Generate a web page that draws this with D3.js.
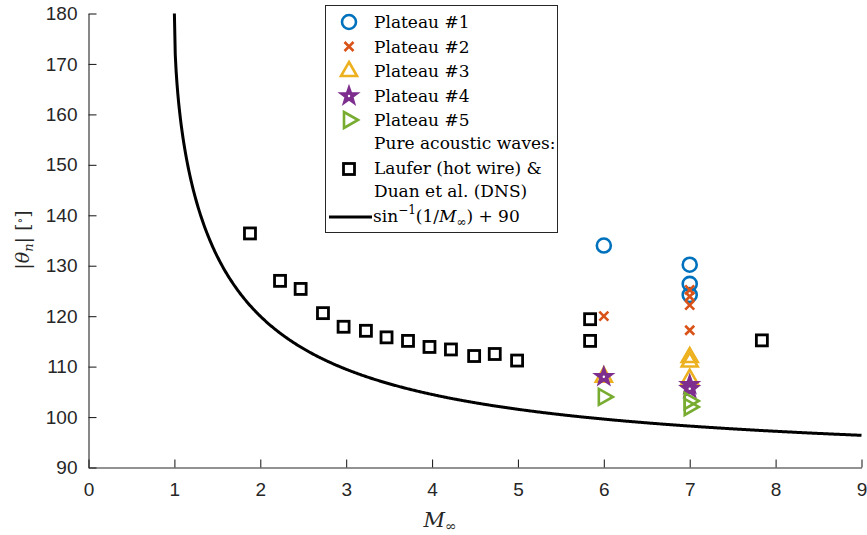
<!DOCTYPE html>
<html>
<head>
<meta charset="utf-8">
<script src="https://cdn.jsdelivr.net/npm/d3@7"></script>
<style>
  html, body { margin: 0; padding: 0; background: #fff; }
  svg { display: block; }
</style>
</head>
<body>
<svg id="chart" width="867" height="535"></svg>
<script>
// Laufer (hot wire) & Duan et al. (DNS): pure acoustic waves
const acousticMach  = [1.88, 2.23, 2.47, 2.73, 2.97, 3.23, 3.47, 3.72, 3.97, 4.22, 4.49, 4.73, 4.99, 5.84, 5.84, 7.84];
const acousticTheta = [136.4, 127.0, 125.4, 120.6, 117.9, 117.1, 115.8, 115.1, 113.9, 113.4, 112.1, 112.5, 111.2, 119.4, 115.1, 115.2];

// Plateau measurements
const plateau1Mach  = [6, 7, 7, 7];
const plateau1Theta = [134.0, 130.2, 126.4, 124.2];
const plateau2Mach  = [6, 7, 7, 7, 7];
const plateau2Theta = [120.0, 125.2, 123.9, 122.2, 117.2];
const plateau3Mach  = [6, 7, 7, 7];
const plateau3Theta = [108.0, 111.9, 111.0, 107.6];
const plateau4Mach  = [6, 7, 7];
const plateau4Theta = [108.0, 106.4, 105.6];
const plateau5Mach  = [6, 7, 7];
const plateau5Theta = [104.0, 103.2, 102.0];

const xTicks = [0, 1, 2, 3, 4, 5, 6, 7, 8, 9];
const yTicks = [90, 100, 110, 120, 130, 140, 150, 160, 170, 180];

const legendLabels = ["Plateau #1", "Plateau #2", "Plateau #3", "Plateau #4", "Plateau #5"];
const colors = ["#0072BD", "#D95319", "#EDB120", "#7E2F8E", "#77AC30"];

const svg = d3.select("#chart");
const plotLeft = 88.5, plotRight = 861.5, plotTop = 13.5, plotBottom = 467.5;
const x = d3.scaleLinear().domain([0, 9]).range([plotLeft, plotRight]);
const y = d3.scaleLinear().domain([90, 180]).range([plotBottom, plotTop]);

const axisColor = "#262626";
const tickFont = "'Liberation Sans', Arial, sans-serif";
const serif = "'DejaVu Serif', 'Liberation Serif', serif";

// Axes: left and bottom only, ticks pointing inward
const gx = svg.append("g").attr("transform", `translate(0,${plotBottom})`)
  .call(d3.axisBottom(x).tickValues(xTicks).tickSizeInner(-8).tickSizeOuter(0).tickPadding(15).tickFormat(d3.format("d")));
const gy = svg.append("g").attr("transform", `translate(${plotLeft},0)`)
  .call(d3.axisLeft(y).tickValues(yTicks).tickSizeInner(-8).tickSizeOuter(0).tickPadding(11).tickFormat(d3.format("d")));
[gx, gy].forEach(g => {
  g.select(".domain").attr("stroke", axisColor).attr("stroke-width", 1.1);
  g.selectAll(".tick line").attr("stroke", axisColor).attr("stroke-width", 1.1);
  g.selectAll(".tick text").attr("fill", axisColor).style("font-family", tickFont).style("font-size", "19px");
});

// Theoretical curve sin^-1(1/M) + 90
const curveMach = d3.range(1, 9.0001, 0.01);
const curveLine = d3.line().x(d => x(d)).y(d => y(Math.asin(Math.min(1, 1 / d)) * 180 / Math.PI + 90));
svg.append("path").datum(curveMach).attr("d", curveLine)
  .attr("fill", "none").attr("stroke", "#000").attr("stroke-width", 3);

// Marker shapes
function starPath(r) {
  const pts = [];
  for (let i = 0; i < 10; i++) {
    const rad = i % 2 === 0 ? r : r * 0.4;
    const a = -Math.PI / 2 + i * Math.PI / 5;
    pts.push([rad * Math.cos(a), rad * Math.sin(a)]);
  }
  return "M" + pts.map(p => p.join(",")).join("L") + "Z";
}
const markers = {
  circle: (g, c) => g.append("circle").attr("r", 7).attr("fill", "none").attr("stroke", c).attr("stroke-width", 2.6),
  cross: (g, c) => g.append("path").attr("d", "M-4.5,-4.5L4.5,4.5M-4.5,4.5L4.5,-4.5").attr("fill", "none").attr("stroke", c).attr("stroke-width", 2.6),
  triUp: (g, c) => g.append("path").attr("d", "M0,-9L8,5L-8,5Z").attr("fill", "none").attr("stroke", c).attr("stroke-width", 2.6),
  star: (g, c) => {
    g.append("path").attr("d", starPath(9.8)).attr("fill", c).attr("stroke", c).attr("stroke-width", 1.6).attr("stroke-linejoin", "miter");
    g.append("circle").attr("r", 1.2).attr("fill", "#fff");
  },
  triRight: (g, c) => g.append("path").attr("d", "M9,0L-5,-8L-5,8Z").attr("fill", "none").attr("stroke", c).attr("stroke-width", 2.6),
  square: (g, c) => g.append("rect").attr("x", -5.5).attr("y", -5.5).attr("width", 11).attr("height", 11).attr("fill", "none").attr("stroke", c).attr("stroke-width", 2.8)
};

function drawSeries(xs, ys, shape, color) {
  xs.forEach((m, i) => {
    const g = svg.append("g").attr("transform", `translate(${x(m)},${y(ys[i])})`);
    markers[shape](g, color);
  });
}
drawSeries(acousticMach, acousticTheta, "square", "#000");
drawSeries(plateau1Mach, plateau1Theta, "circle", colors[0]);
drawSeries(plateau2Mach, plateau2Theta, "cross", colors[1]);
drawSeries(plateau3Mach, plateau3Theta, "triUp", colors[2]);
drawSeries(plateau4Mach, plateau4Theta, "star", colors[3]);
drawSeries(plateau5Mach, plateau5Theta, "triRight", colors[4]);

// Legend
const lg = svg.append("g");
lg.append("rect").attr("x", 325.5).attr("y", 5.5).attr("width", 232).attr("height", 227)
  .attr("fill", "#fff").attr("stroke", axisColor).attr("stroke-width", 1);
const shapes = ["circle", "cross", "triUp", "star", "triRight"];
const rowY = [22, 46.5, 71, 96, 120];
shapes.forEach((s, i) => {
  markers[s](lg.append("g").attr("transform", `translate(349,${rowY[i]})`), colors[i]);
  lg.append("text").attr("x", 374).attr("y", rowY[i] + 6).text(legendLabels[i]);
});
markers.square(lg.append("g").attr("transform", "translate(349,169)"), "#000");
lg.append("text").attr("x", 374).attr("y", 149).text("Pure acoustic waves:");
lg.append("text").attr("x", 374).attr("y", 174).text("Laufer (hot wire) &");
lg.append("text").attr("x", 374).attr("y", 197).text("Duan et al. (DNS)");
lg.append("line").attr("x1", 329).attr("x2", 372).attr("y1", 217).attr("y2", 217)
  .attr("stroke", "#000").attr("stroke-width", 3);
const ft = lg.append("text").attr("x", 373).attr("y", 222);
ft.append("tspan").text("sin");
ft.append("tspan").attr("class", "small").attr("dy", -8).text("−1");
ft.append("tspan").attr("dy", 8).text("(1/");
ft.append("tspan").style("font-style", "italic").text("M");
ft.append("tspan").attr("class", "small").attr("dy", 4).text("∞");
ft.append("tspan").attr("dy", -4).text(") + 90");
lg.selectAll("text").attr("fill", "#000").style("font-family", serif).style("font-size", "17px");
ft.selectAll("tspan.small").style("font-size", "12px");

// Axis titles
const xl = svg.append("text").attr("x", 440).attr("y", 527).attr("text-anchor", "middle")
  .style("font-family", serif).style("font-size", "21px").attr("fill", axisColor);
xl.append("tspan").style("font-style", "italic").text("M");
xl.append("tspan").attr("dy", 4).style("font-size", "14px").text("∞");

const yl = svg.append("text").attr("transform", "translate(29,240) rotate(-90)").attr("text-anchor", "middle")
  .style("font-family", serif).style("font-size", "19px").attr("fill", axisColor);
yl.append("tspan").text("|");
yl.append("tspan").style("font-style", "italic").text("θ");
yl.append("tspan").attr("dy", 4).style("font-size", "13px").style("font-style", "italic").text("n");
yl.append("tspan").attr("dy", -4).text("|  [");
yl.append("tspan").attr("dy", -5).style("font-size", "12px").text("∘");
yl.append("tspan").attr("dy", 5).text("]");
</script>
</body>
</html>
